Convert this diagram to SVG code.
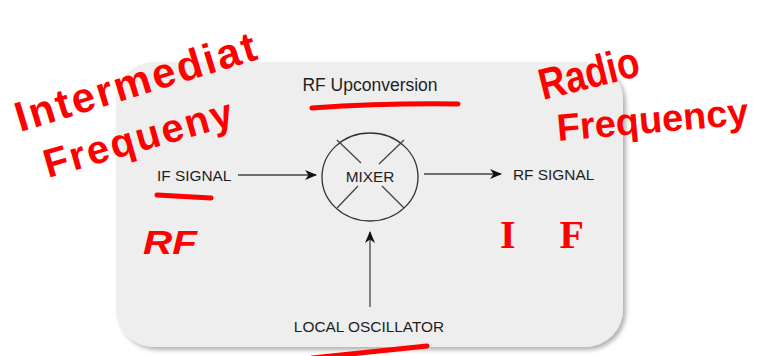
<svg xmlns="http://www.w3.org/2000/svg" width="758" height="356" viewBox="0 0 758 356">
<defs>
<filter id="sh" x="-5%" y="-5%" width="115%" height="115%">
<feDropShadow dx="3" dy="3" stdDeviation="2" flood-color="#000" flood-opacity="0.3"/>
</filter>
<marker id="arr" viewBox="0 0 12 10" refX="11" refY="5" markerWidth="12" markerHeight="10" markerUnits="userSpaceOnUse" orient="auto">
<path d="M0,0 L12,5 L0,10 L3.5,5 z" fill="#111"/>
</marker>
<style>
.lbl{font-family:"Liberation Sans",Arial,sans-serif;font-size:15.4px;fill:#1e1e1e}
.ttl{font-family:"Liberation Sans",Arial,sans-serif;font-size:17.5px;fill:#1e1e1e}
.ln{stroke:#444;stroke-width:1.3;fill:none}
.hw{font-family:"Liberation Sans",Arial,sans-serif;font-weight:bold;fill:#ff0000}
.hws{font-family:"Liberation Serif",serif;font-weight:bold;fill:#ff0000}
.ul{stroke:#ff0000;stroke-width:5;stroke-linecap:round;fill:none}
</style>
</defs>
<g id="container">
<rect x="116" y="62" width="507" height="285" rx="38" ry="38" fill="#eeeeee" filter="url(#sh)"/>
<text class="ttl" x="370" y="91" text-anchor="middle">RF Upconversion</text>
</g>
<g id="if-signal">
<text class="lbl" x="157" y="181">IF SIGNAL</text>
</g>
<g id="mixer">
<ellipse cx="370" cy="177" rx="48" ry="44" fill="none" stroke="#333" stroke-width="1.3"/>
<line class="ln" x1="337" y1="140" x2="361" y2="163"/>
<line class="ln" x1="404" y1="140" x2="379" y2="164"/>
<line class="ln" x1="358" y1="186" x2="337" y2="208"/>
<line class="ln" x1="382" y1="186" x2="404" y2="208"/>
<text class="lbl" x="370" y="182" text-anchor="middle">MIXER</text>
</g>
<g id="rf-signal">
<text class="lbl" x="513" y="180">RF SIGNAL</text>
</g>
<g id="local-oscillator">
<text class="lbl" x="369" y="332" text-anchor="middle">LOCAL OSCILLATOR</text>
</g>
<g id="connectors">
<line class="ln" x1="238" y1="175" x2="316" y2="175" marker-end="url(#arr)"/>
<line class="ln" x1="424" y1="174" x2="501" y2="174" marker-end="url(#arr)"/>
<line class="ln" x1="370" y1="307" x2="370" y2="232" marker-end="url(#arr)"/>
</g>
<g id="annotations">
<text class="hw" font-size="42" x="0" y="0" textLength="250" lengthAdjust="spacing" transform="translate(20,132) rotate(-17)">Intermediat</text>
<text class="hw" font-size="40" x="0" y="0" textLength="195" lengthAdjust="spacing" transform="translate(48,178) rotate(-16)">Frequeny</text>
<text class="hw" font-size="44" x="0" y="0" textLength="102" lengthAdjust="spacingAndGlyphs" transform="translate(543,100) rotate(-14)">Radio</text>
<text class="hw" font-size="38" x="0" y="0" textLength="192" lengthAdjust="spacing" transform="translate(558,141) rotate(-5)">Frequency</text>
<text class="hw" font-size="33" font-style="italic" x="143" y="254" textLength="54" lengthAdjust="spacingAndGlyphs">RF</text>
<text class="hws" font-size="40" x="500" y="248" textLength="84" lengthAdjust="spacing">I F</text>
<path class="ul" d="M157,195 L211,198"/>
<path class="ul" d="M312,108 Q385,103 458,104"/>
<path class="ul" stroke-width="6" d="M312,358 L427,346"/>
</g>
</svg>
